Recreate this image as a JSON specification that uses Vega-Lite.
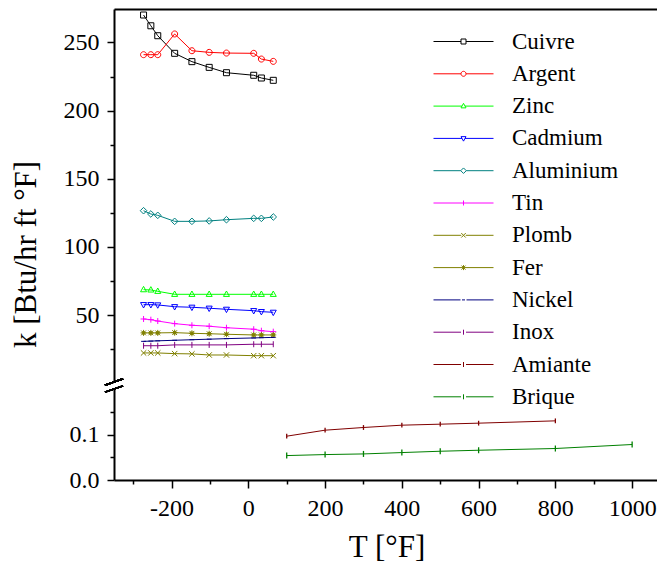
{
  "$schema": "https://vega.github.io/schema/vega-lite/v6.json",
  "padding": {"left": 10, "top": 9, "right": 0, "bottom": 0},
  "bounds": "flush",
  "config": {
    "view": {"stroke": null},
    "font": "Liberation Serif",
    "axis": {
      "labelFont": "Liberation Serif", "titleFont": "Liberation Serif",
      "labelFontSize": 24, "titleFontSize": 31, "titleFontWeight": "normal",
      "labelColor": "black", "titleColor": "black",
      "domainColor": "black", "tickColor": "black",
      "domainWidth": 2, "tickWidth": 1.5, "grid": false
    },
    "legend": {
      "labelFont": "Liberation Serif", "labelFontSize": 23, "labelColor": "black",
      "labelLimit": 300
    }
  },
  "datasets": {
    "metals": [
      {"m": "Cuivre", "T": -273, "k": 270.1}, {"m": "Cuivre", "T": -254, "k": 262.2}, {"m": "Cuivre", "T": -236, "k": 254.9}, {"m": "Cuivre", "T": -192, "k": 242.0}, {"m": "Cuivre", "T": -147, "k": 235.9}, {"m": "Cuivre", "T": -102, "k": 231.7}, {"m": "Cuivre", "T": -57, "k": 227.8}, {"m": "Cuivre", "T": 14, "k": 225.9}, {"m": "Cuivre", "T": 34, "k": 223.9}, {"m": "Cuivre", "T": 65, "k": 222.2},
      {"m": "Argent", "T": -273, "k": 241.0}, {"m": "Argent", "T": -254, "k": 241.0}, {"m": "Argent", "T": -236, "k": 241.0}, {"m": "Argent", "T": -192, "k": 256.2}, {"m": "Argent", "T": -147, "k": 243.9}, {"m": "Argent", "T": -102, "k": 242.7}, {"m": "Argent", "T": -57, "k": 242.2}, {"m": "Argent", "T": 14, "k": 242.0}, {"m": "Argent", "T": 34, "k": 237.8}, {"m": "Argent", "T": 65, "k": 236.1},
      {"m": "Zinc", "T": -273, "k": 68.7}, {"m": "Zinc", "T": -254, "k": 68.5}, {"m": "Zinc", "T": -236, "k": 67.5}, {"m": "Zinc", "T": -192, "k": 65.3}, {"m": "Zinc", "T": -147, "k": 65.3}, {"m": "Zinc", "T": -102, "k": 65.3}, {"m": "Zinc", "T": -57, "k": 65.3}, {"m": "Zinc", "T": 14, "k": 65.3}, {"m": "Zinc", "T": 34, "k": 65.3}, {"m": "Zinc", "T": 65, "k": 65.3},
      {"m": "Cadmium", "T": -273, "k": 57.7}, {"m": "Cadmium", "T": -254, "k": 57.7}, {"m": "Cadmium", "T": -236, "k": 57.5}, {"m": "Cadmium", "T": -192, "k": 56.2}, {"m": "Cadmium", "T": -147, "k": 55.8}, {"m": "Cadmium", "T": -102, "k": 55.1}, {"m": "Cadmium", "T": -57, "k": 54.3}, {"m": "Cadmium", "T": 14, "k": 53.3}, {"m": "Cadmium", "T": 34, "k": 52.6}, {"m": "Cadmium", "T": 65, "k": 52.1},
      {"m": "Aluminium", "T": -273, "k": 126.6}, {"m": "Aluminium", "T": -254, "k": 124.2}, {"m": "Aluminium", "T": -236, "k": 123.2}, {"m": "Aluminium", "T": -192, "k": 118.8}, {"m": "Aluminium", "T": -147, "k": 118.8}, {"m": "Aluminium", "T": -102, "k": 119.1}, {"m": "Aluminium", "T": -57, "k": 120.0}, {"m": "Aluminium", "T": 14, "k": 121.0}, {"m": "Aluminium", "T": 34, "k": 121.0}, {"m": "Aluminium", "T": 65, "k": 122.0},
      {"m": "Tin", "T": -273, "k": 47.2}, {"m": "Tin", "T": -254, "k": 46.7}, {"m": "Tin", "T": -236, "k": 45.7}, {"m": "Tin", "T": -192, "k": 43.8}, {"m": "Tin", "T": -147, "k": 42.6}, {"m": "Tin", "T": -102, "k": 41.9}, {"m": "Tin", "T": -57, "k": 40.8}, {"m": "Tin", "T": 14, "k": 39.7}, {"m": "Tin", "T": 34, "k": 38.6}, {"m": "Tin", "T": 65, "k": 37.9},
      {"m": "Plomb", "T": -273, "k": 22.3}, {"m": "Plomb", "T": -254, "k": 22.3}, {"m": "Plomb", "T": -236, "k": 22.3}, {"m": "Plomb", "T": -192, "k": 21.8}, {"m": "Plomb", "T": -147, "k": 21.6}, {"m": "Plomb", "T": -102, "k": 20.8}, {"m": "Plomb", "T": -57, "k": 20.8}, {"m": "Plomb", "T": 14, "k": 20.3}, {"m": "Plomb", "T": 34, "k": 20.3}, {"m": "Plomb", "T": 65, "k": 20.3},
      {"m": "Fer", "T": -273, "k": 37.0}, {"m": "Fer", "T": -254, "k": 37.0}, {"m": "Fer", "T": -236, "k": 37.0}, {"m": "Fer", "T": -192, "k": 37.2}, {"m": "Fer", "T": -147, "k": 36.7}, {"m": "Fer", "T": -102, "k": 36.4}, {"m": "Fer", "T": -57, "k": 36.0}, {"m": "Fer", "T": 14, "k": 35.5}, {"m": "Fer", "T": 34, "k": 35.5}, {"m": "Fer", "T": 65, "k": 35.5},
      {"m": "Nickel", "T": -273, "k": 30.8}, {"m": "Nickel", "T": -254, "k": 31.0}, {"m": "Nickel", "T": -236, "k": 31.2}, {"m": "Nickel", "T": -192, "k": 31.6}, {"m": "Nickel", "T": -147, "k": 32.0}, {"m": "Nickel", "T": -102, "k": 32.4}, {"m": "Nickel", "T": -57, "k": 32.8}, {"m": "Nickel", "T": 14, "k": 33.3}, {"m": "Nickel", "T": 34, "k": 33.5}, {"m": "Nickel", "T": 65, "k": 33.7},
      {"m": "Inox", "T": -273, "k": 27.6}, {"m": "Inox", "T": -254, "k": 27.6}, {"m": "Inox", "T": -236, "k": 27.6}, {"m": "Inox", "T": -192, "k": 28.2}, {"m": "Inox", "T": -147, "k": 28.2}, {"m": "Inox", "T": -102, "k": 28.2}, {"m": "Inox", "T": -57, "k": 28.2}, {"m": "Inox", "T": 14, "k": 28.7}, {"m": "Inox", "T": 34, "k": 28.7}, {"m": "Inox", "T": 65, "k": 28.7}
    ],
    "insul": [
      {"m": "Amiante", "T": 100, "k": 0.0963}, {"m": "Amiante", "T": 200, "k": 0.1095}, {"m": "Amiante", "T": 300, "k": 0.1154}, {"m": "Amiante", "T": 400, "k": 0.1205}, {"m": "Amiante", "T": 500, "k": 0.1227}, {"m": "Amiante", "T": 600, "k": 0.1249}, {"m": "Amiante", "T": 800, "k": 0.130},
      {"m": "Brique", "T": 100, "k": 0.0537}, {"m": "Brique", "T": 200, "k": 0.0559}, {"m": "Brique", "T": 300, "k": 0.0573}, {"m": "Brique", "T": 400, "k": 0.0603}, {"m": "Brique", "T": 500, "k": 0.0632}, {"m": "Brique", "T": 600, "k": 0.0654}, {"m": "Brique", "T": 800, "k": 0.0692}, {"m": "Brique", "T": 1000, "k": 0.078}
    ]
  },
  "spacing": 7,
  "resolve": {"legend": {"color": "independent", "shape": "independent"}, "scale": {"x": "independent", "y": "independent", "shape": "independent"}},
  "vconcat": [
    {
      "width": 545, "height": 373,
      "data": {"name": "metals"},
      "resolve": {"scale": {"shape": "independent"}, "legend": {"color": "independent", "shape": "independent"}},
      "layer": [
        {
          "mark": {"type": "line", "strokeWidth": 1},
          "encoding": {
            "x": {"field": "T", "type": "quantitative", "scale": {"domain": [-350, 1070], "nice": false, "zero": false},
                  "axis": {"orient": "top", "labels": false, "ticks": false, "title": null}},
            "y": {"field": "k", "type": "quantitative", "scale": {"domain": [1, 274.5], "nice": false, "zero": false},
                  "axis": {"values": [25, 50, 75, 100, 125, 150, 175, 200, 225, 250], "tickCount": 30,
                           "labelExpr": "datum.value % 50 === 0 ? datum.label : ''",
                           "tickSize": {"condition": {"test": "datum.value % 50 === 0", "value": 7}, "value": 4},
                           "labelPadding": 8, "labelOverlap": false,
                           "labelFont": "Liberation Serif", "titleFont": "Liberation Serif",
                           "title": "k [Btu/hr ft °F]", "titleX": -72, "titleY": 245}},
            "color": {"field": "m", "type": "nominal",
                      "scale": {"domain": ["Cuivre", "Argent", "Zinc", "Cadmium", "Aluminium", "Tin", "Plomb", "Fer", "Nickel", "Inox", "Amiante", "Brique"],
                                "range": ["#000000", "#FF0000", "#00FF00", "#0000FF", "#008080", "#FF00FF", "#808000", "#808000", "#000080", "#800080", "#800000", "#008000"]},
                      "legend": null}
          }
        },
        {
          "mark": {"type": "point", "filled": false, "size": 36, "strokeWidth": 1, "opacity": 1},
          "encoding": {
            "x": {"field": "T", "type": "quantitative"},
            "y": {"field": "k", "type": "quantitative"},
            "color": {"field": "m", "type": "nominal", "legend": null},
            "shape": {"field": "m", "type": "nominal", "legend": null,
                      "scale": {"domain": ["Cuivre", "Argent", "Zinc", "Cadmium", "Aluminium", "Tin", "Plomb", "Fer", "Nickel", "Inox", "Amiante", "Brique"],
                                "range": ["M-1,-1H1V1H-1Z", "M1,0A1,1,0,1,1,-1,0A1,1,0,1,1,1,0Z", "M0,-1.1L1,0.7H-1Z", "M0,1.1L1,-0.7H-1Z", "M0,-1.1L1.1,0L0,1.1L-1.1,0Z", "M-1,0H1M0,-1V1", "M-0.9,-0.9L0.9,0.9M-0.9,0.9L0.9,-0.9", "M-1,0H1M0,-1V1M-0.8,-0.8L0.8,0.8M-0.8,0.8L0.8,-0.8M-0.4,-0.4H0.4V0.4H-0.4Z", "M-0.8,0H0.8", "M0,-1V1", "M0,-0.8V0.8", "M0,-1V1"]}}
          }
        },
        {
          "mark": {"type": "point", "filled": false, "size": 25, "strokeWidth": 1, "opacity": 0},
          "encoding": {
            "x": {"field": "T", "type": "quantitative"},
            "y": {"field": "k", "type": "quantitative"},
            "color": {"field": "m", "type": "nominal",
                      "legend": {"title": null, "orient": "none", "legendX": 338, "legendY": 21,
                                 "symbolSize": 25, "symbolOpacity": 1, "symbolStrokeWidth": 1, "labelOffset": 37, "rowPadding": 8.3, "padding": 0,
                                 "labelFont": "Liberation Serif", "labelFontSize": 23}},
            "shape": {"field": "m", "type": "nominal",
                      "scale": {"domain": ["Cuivre", "Argent", "Zinc", "Cadmium", "Aluminium", "Tin", "Plomb", "Fer", "Nickel", "Inox", "Amiante", "Brique"],
                                "range": ["M-12,0H-1M1,0H12M-1,-1H1V1H-1Z", "M-12,0H-1M1,0H12M1,0A1,1,0,1,1,-1,0A1,1,0,1,1,1,0Z", "M-12,0H-0.6M0.6,0H12M0,-1.1L1,0.7H-1Z", "M-12,0H-0.6M0.6,0H12M0,1.1L1,-0.7H-1Z", "M-12,0H-1.1M1.1,0H12M0,-1.1L1.1,0L0,1.1L-1.1,0Z", "M-12,0H12M0,-1V1", "M-12,0H-0.9M0.9,0H12M-0.9,-0.9L0.9,0.9M-0.9,0.9L0.9,-0.9", "M-12,0H12M0,-1V1M-0.8,-0.8L0.8,0.8M-0.8,0.8L0.8,-0.8", "M-12,0H-1.2M-0.6,0H0.6M1.2,0H12", "M-12,0H-1M1,0H12M0,-1V1", "M-12,0H-1M1,0H12M0,-1V1", "M-12,0H-1M1,0H12M0,-1V1"]},
                      "legend": {"title": null, "orient": "none", "legendX": 338, "legendY": 21,
                                 "symbolSize": 25, "symbolOpacity": 1, "symbolStrokeWidth": 1, "labelOffset": 37, "rowPadding": 8.3, "padding": 0,
                                 "labelFont": "Liberation Serif", "labelFontSize": 23}}
          }
        },
        {
          "mark": {"type": "point", "shape": "M-1,0.35L1,-0.35", "size": 324, "strokeWidth": 1.5, "color": "black", "opacity": 1},
          "encoding": {"x": {"datum": -350, "type": "quantitative"}, "y": {"datum": 1, "type": "quantitative"}}
        }
      ]
    },
    {
      "width": 545, "height": 91,
      "data": {"name": "insul"},
      "layer": [
        {
          "mark": {"type": "line", "strokeWidth": 1},
          "encoding": {
            "x": {"field": "T", "type": "quantitative", "scale": {"domain": [-350, 1070], "nice": false, "zero": false},
                  "axis": {"values": [-300, -200, -100, 0, 100, 200, 300, 400, 500, 600, 700, 800, 900, 1000], "tickCount": 30,
                           "labelExpr": "datum.value % 200 === 0 ? '' + datum.value : ''",
                           "tickSize": {"condition": {"test": "datum.value % 200 === 0", "value": 8}, "value": 4},
                           "labelPadding": 8, "labelFlush": false, "labelOverlap": false,
                           "labelFont": "Liberation Serif", "titleFont": "Liberation Serif",
                           "title": "T [°F]", "titlePadding": 12}},
            "y": {"field": "k", "type": "quantitative", "scale": {"domain": [0, 0.2], "nice": false, "zero": false},
                  "axis": {"values": [0, 0.05, 0.1, 0.15], "tickCount": 30,
                           "labelExpr": "(datum.value == 0 || datum.value == 0.1) ? format(datum.value, '.1f') : ''",
                           "tickSize": {"condition": {"test": "datum.value == 0 || datum.value == 0.1", "value": 7}, "value": 4},
                           "labelPadding": 8, "labelFlush": false, "labelOverlap": false,
                           "labelFont": "Liberation Serif", "title": null}},
            "color": {"field": "m", "type": "nominal", "legend": null}
          }
        },
        {
          "mark": {"type": "point", "filled": false, "size": 36, "strokeWidth": 1.3, "opacity": 1},
          "encoding": {
            "x": {"field": "T", "type": "quantitative"},
            "y": {"field": "k", "type": "quantitative"},
            "color": {"field": "m", "type": "nominal", "legend": null},
            "shape": {"field": "m", "type": "nominal", "legend": null,
                      "scale": {"domain": ["Amiante", "Brique"], "range": ["M0,-0.8V0.8", "M0,-1V1"]}}
          }
        },
        {
          "mark": {"type": "point", "shape": "M-1,0.35L1,-0.35", "size": 324, "strokeWidth": 1.5, "color": "black", "opacity": 1},
          "encoding": {"x": {"datum": -350, "type": "quantitative"}, "y": {"datum": 0.2, "type": "quantitative"}}
        }
      ]
    }
  ]
}
